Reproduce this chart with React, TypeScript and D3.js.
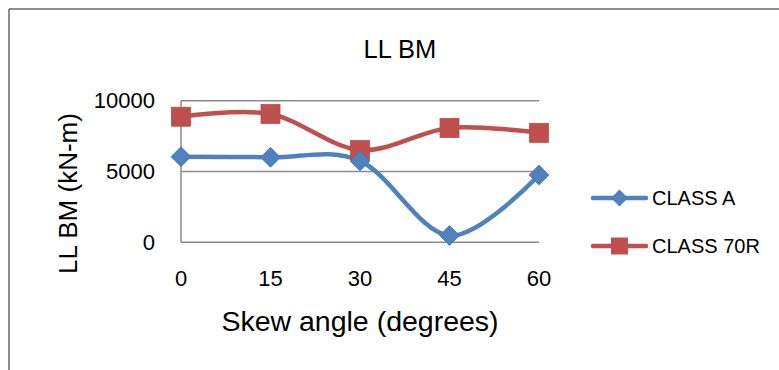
import React from "react";
import * as d3 from "d3";

const categories: number[] = [0, 15, 30, 45, 60];
const classA: number[] = [6050, 6000, 5750, 480, 4750];
const class70R: number[] = [8870, 9060, 6520, 8080, 7730];
const yTicks: number[] = [0, 5000, 10000];
const seriesNames: string[] = ["CLASS A", "CLASS 70R"];

const W = 779;
const H = 370;
const FONT = "'Liberation Sans', Arial, sans-serif";
const BLUE = "#4F81BD";
const RED = "#C0504D";
const GRID = "#8a8a8a";

export default function App() {
  const x = d3.scalePoint<number>().domain(categories).range([181, 539]);
  const y = d3.scaleLinear().domain([0, 10000]).range([242.3, 100.7]);

  const line = d3
    .line<number>()
    .x((_, i) => x(categories[i]) as number)
    .y((d) => y(d))
    .curve(d3.curveCardinal.tension(0));

  const diamond = (cx: number, cy: number, r: number) =>
    `M${cx},${cy - r}L${cx + r},${cy}L${cx},${cy + r}L${cx - r},${cy}Z`;

  const legendY = [198, 246];

  return (
    <svg
      width={W}
      height={H}
      style={{ position: "absolute", left: 0, top: 0, background: "#fff" }}
      fontFamily={FONT}
    >
      <rect x={0} y={0} width={W} height={H} fill="#fff" />
      {/* chart border */}
      <line x1={9} y1={9} x2={W} y2={9} stroke="#8c8c8c" strokeWidth={2} />
      <line x1={9} y1={9} x2={9} y2={H} stroke="#8c8c8c" strokeWidth={2} />

      {/* title */}
      <text x={400} y={58} textAnchor="middle" fontSize={25.5} fill="#000">
        LL BM
      </text>

      {/* gridlines */}
      {yTicks.map((t) => (
        <line
          key={t}
          x1={181}
          x2={539}
          y1={y(t)}
          y2={y(t)}
          stroke={GRID}
          strokeWidth={1.5}
        />
      ))}
      <line x1={181} x2={181} y1={y(10000)} y2={y(0)} stroke={GRID} strokeWidth={1.5} />

      {/* y tick labels */}
      {yTicks.map((t) => (
        <text
          key={t}
          x={155}
          y={y(t)}
          textAnchor="end"
          dominantBaseline="central"
          fontSize={22}
          fill="#000"
        >
          {t}
        </text>
      ))}

      {/* x tick labels */}
      {categories.map((c) => (
        <text
          key={c}
          x={x(c) as number}
          y={285.5}
          textAnchor="middle"
          fontSize={22}
          fill="#000"
        >
          {c}
        </text>
      ))}

      {/* axis titles */}
      <text x={360} y={330.5} textAnchor="middle" fontSize={28.5} fill="#000">
        Skew angle (degrees)
      </text>
      <text
        transform={`translate(77,193.5) rotate(-90)`}
        textAnchor="middle"
        fontSize={26}
        fill="#000"
      >
        LL BM (kN-m)
      </text>

      {/* series lines */}
      <path d={line(class70R) || ""} fill="none" stroke={RED} strokeWidth={4.5} strokeLinecap="round" />
      <path d={line(classA) || ""} fill="none" stroke={BLUE} strokeWidth={4.5} strokeLinecap="round" />

      {/* markers */}
      {class70R.map((v, i) => (
        <rect
          key={"r" + i}
          x={(x(categories[i]) as number) - 9.5}
          y={y(v) - 9.5}
          width={19}
          height={19}
          fill={RED}
          stroke="#b84744"
          strokeWidth={0.75}
        />
      ))}
      {classA.map((v, i) => (
        <path
          key={"d" + i}
          d={diamond(x(categories[i]) as number, y(v), 10)}
          fill={BLUE}
          stroke="#4677b0"
          strokeWidth={0.75}
        />
      ))}

      {/* legend */}
      {seriesNames.map((name, i) => {
        const ly = legendY[i];
        const col = i === 0 ? BLUE : RED;
        return (
          <g key={name}>
            <line x1={593} x2={646} y1={ly} y2={ly} stroke={col} strokeWidth={4.5} strokeLinecap="round" />
            {i === 0 ? (
              <path d={diamond(619.5, ly, 8.5)} fill={col} />
            ) : (
              <rect x={611} y={ly - 8.5} width={17} height={17} fill={col} />
            )}
            <text x={652} y={ly} dominantBaseline="central" fontSize={20} fill="#000">
              {name}
            </text>
          </g>
        );
      })}
    </svg>
  );
}
